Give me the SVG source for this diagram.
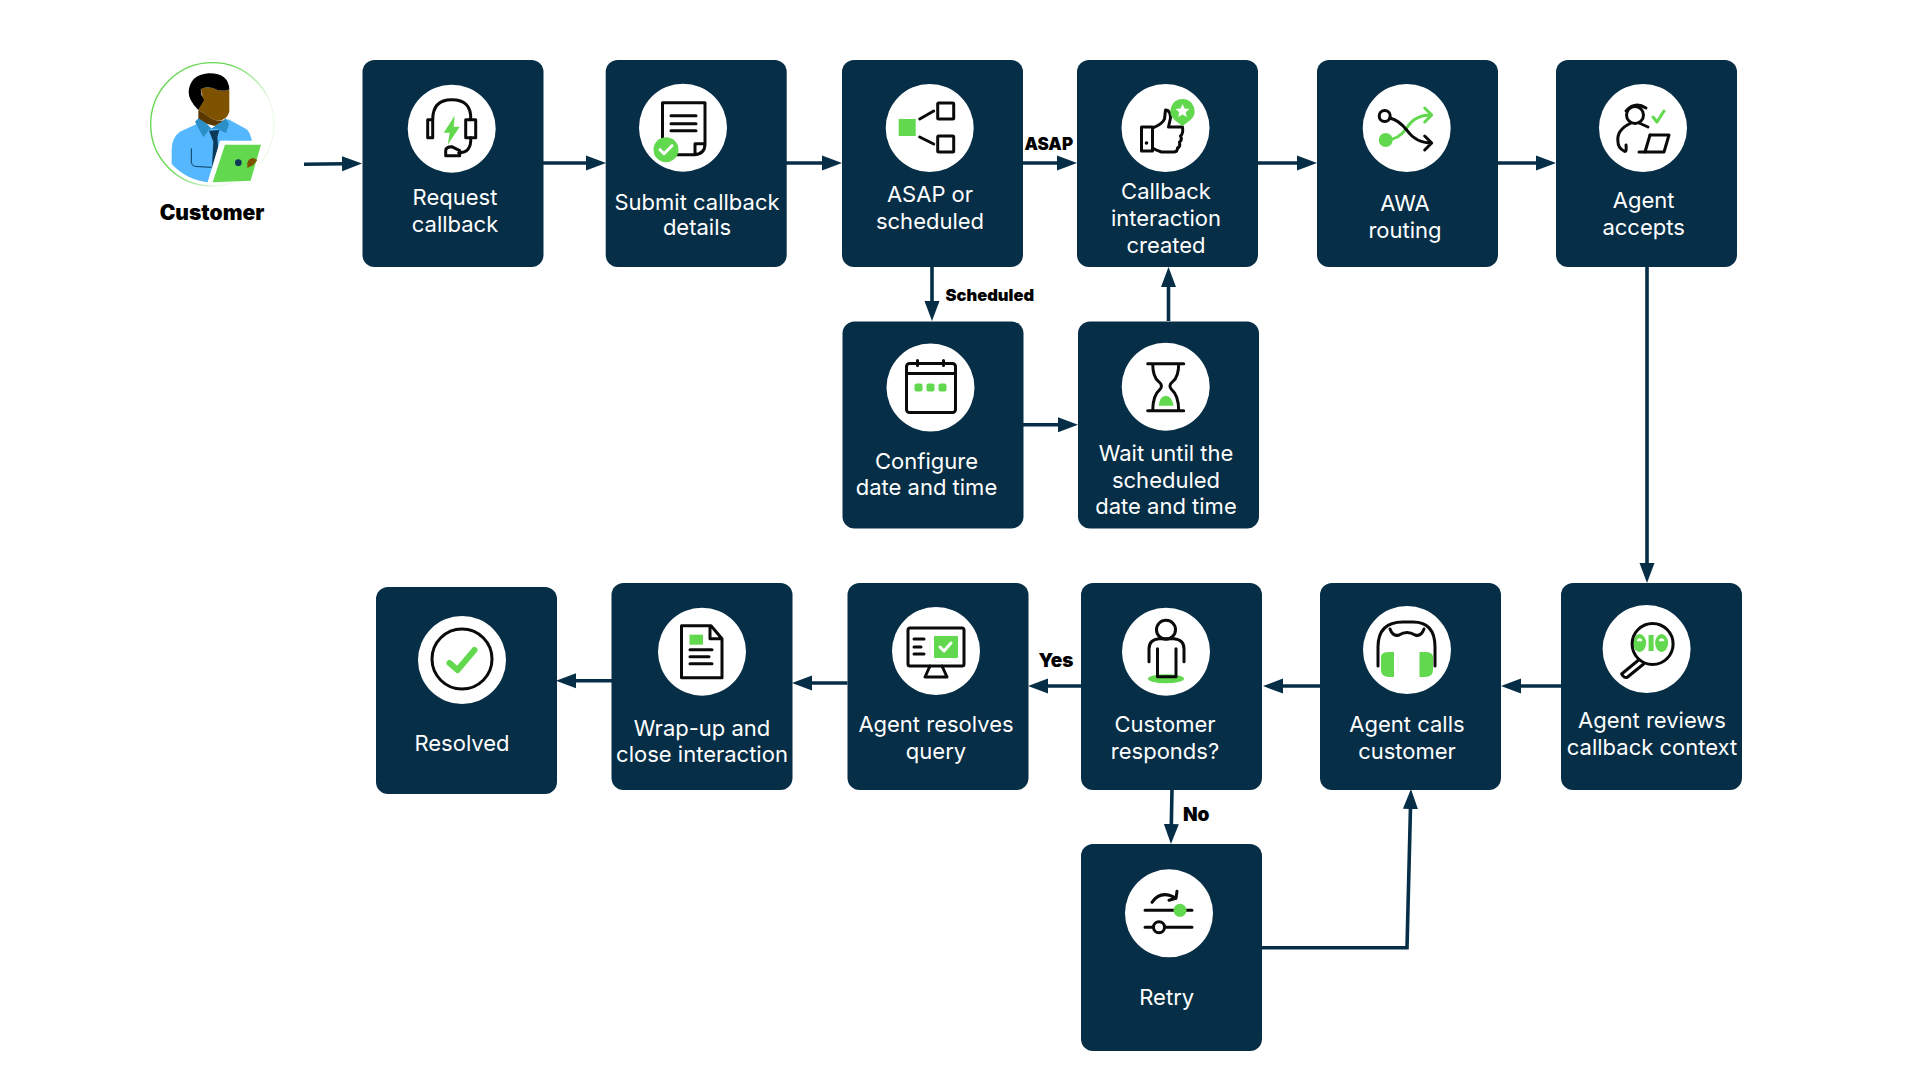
<svg xmlns="http://www.w3.org/2000/svg" width="1920" height="1080" viewBox="0 0 1920 1080">
<style>
text{font-family:"Inter","Liberation Sans",sans-serif}
.b{fill:#062e46}
.c{fill:#fff}
.t{fill:#fff;font-size:22px;text-anchor:middle}
.l{fill:#000;font-weight:900;font-size:16.500px}
.k{fill:none;stroke:#0a0a0a;stroke-width:3;stroke-linecap:round;stroke-linejoin:round}
.g{fill:#62d84e}
.gl{fill:none;stroke:#62d84e;stroke-width:3;stroke-linecap:round;stroke-linejoin:round}
.w{fill:none;stroke:#fff;stroke-width:3;stroke-linecap:round;stroke-linejoin:round}
.e{fill:none;stroke:#062e46;stroke-width:3.600;marker-end:url(#a)}
</style>
<defs>
<marker id="a" markerUnits="userSpaceOnUse" markerWidth="22" markerHeight="18" refX="2" refY="9" orient="auto"><path d="M0 1.500L20 9L0 16.500Z" fill="#062e46"/></marker>
<linearGradient id="ring" x1="0" y1="0" x2="1" y2="0.6"><stop offset="0" stop-color="#62d84e"/><stop offset=".5" stop-color="#62d84e"/><stop offset=".85" stop-color="#eefbeb"/></linearGradient>
</defs>
<rect width="1920" height="1080" fill="#fff"/>

<g id="connectors">
<path class="e" d="M304 164.300L344 163.800"/>
<path class="e" d="M543 163H588"/>
<path class="e" d="M786 163H824"/>
<path class="e" d="M1022 163H1059"/>
<path class="e" d="M1257 163H1299"/>
<path class="e" d="M1498 163H1538"/>
<path class="e" d="M932 267V303"/>
<path class="e" d="M1168.500 321V285"/>
<path class="e" d="M1023 424.700H1060"/>
<path class="e" d="M1647 267V565"/>
<path class="e" d="M1561 686H1519"/>
<path class="e" d="M1320 686H1281"/>
<path class="e" d="M1081 686H1046"/>
<path class="e" d="M847.500 683H810"/>
<path class="e" d="M612 680.700H574"/>
<path class="e" d="M1172 789L1171.300 826"/>
<path class="e" d="M1262 947.700H1407L1410.500 807"/>
</g>

<g id="customer">
<g transform="translate(130 50) scale(.3333)">
<circle cx="247" cy="223" r="185" fill="#fff" stroke="url(#ring)" stroke-width="4"/>
<path d="M125 300Q125 262 150 245L200 222L245 235L295 208L350 238Q362 250 366 275L280 272L235 397Q170 390 125 342Z" fill="#55b8ff"/>
<path d="M195 215L210 200L245 236L288 205L297 222L288 250L262 236H240L220 262Z" fill="#2c90c8"/>
<path d="M237 242L268 240L262 262L268 340L245 365L250 275Z" fill="#0c3a58"/>
<path d="M184 295V338Q186 350 205 350L245 352" fill="none" stroke="#0c3a58" stroke-width="3"/>
<path d="M212 118Q235 105 262 120Q290 125 298 118V185Q290 212 262 212Q235 205 222 190L205 180Q225 150 212 118Z" fill="#7f5200"/>
<path d="M205 180L222 190Q240 207 262 212L280 212L255 228L232 222L205 205Z" fill="#5a3800"/>
<path d="M176 125Q180 75 235 70Q295 68 298 118Q290 125 262 120Q235 105 212 118Q212 135 222 150L205 180Q175 150 176 125Z" fill="#000"/>
<path d="M270 272H366L405 280L370 398L232 400Z" fill="#fff"/>
<path d="M285 284L393 284L362 392L248 397Z" fill="#62d84e"/>
<circle cx="325" cy="338" r="10" fill="#0c3a58"/>
<path d="M352 340Q355 325 370 324L382 330L370 345L352 354Z" fill="#7f5200"/>
</g>
<text x="212" y="219.500" style="font-size:21px;font-weight:900;text-anchor:middle;fill:#000">Customer</text>
</g>

<g id="request-callback">
<rect class="b" x="362.500" y="60" width="181" height="207" rx="12"/>
<circle class="c" cx="451.700" cy="128.700" r="44"/>
<g transform="translate(451.700 128.700)">
<path class="k" d="M-19 -9Q-19 -29 0 -29Q20 -29 19 -9M19 9Q20 24 7 24"/>
<path class="k" d="M-19 -9H-24V9H-19ZM14 -9H24V9H14Z"/>
<path class="k" d="M-6 27V22Q-6 18 0 18L8 22V27Z"/>
<path class="g" d="M3 -13L-8 4H-2L-4 16L8 -2H2Z"/>
</g>
<text class="t" x="455" y="205">Request</text>
<text class="t" x="455" y="231.700">callback</text>
</g>

<g id="submit-callback">
<rect class="b" x="605.700" y="60" width="181" height="207" rx="12"/>
<circle class="c" cx="683" cy="127.700" r="44"/>
<g transform="translate(683 127.700)">
<path class="k" d="M-20.500 15V-25H22V16M-7 27H12Q22 26 22 16H12V27"/>
<path class="k" d="M-12 -12H13M-12 -4H13M-12 3H13"/>
<circle class="g" cx="-17" cy="22" r="12.500"/>
<path class="w" d="M-23 22L-19 26L-11 18"/>
</g>
<text class="t" x="697" y="209.500">Submit callback</text>
<text class="t" x="697" y="235">details</text>
</g>

<g id="asap-or-scheduled">
<rect class="b" x="842" y="60" width="181" height="207" rx="12"/>
<circle class="c" cx="929.700" cy="128" r="44"/>
<g transform="translate(929.700 128)">
<rect class="g" x="-31" y="-9" width="17" height="17"/>
<rect class="k" x="8" y="-25" width="16" height="16" rx="1"/>
<rect class="k" x="8" y="8" width="16" height="16" rx="1"/>
<path class="k" d="M-10 -9L4 -17M-10 9L4 16"/>
</g>
<text class="t" x="930" y="201.700">ASAP or</text>
<text class="t" x="930" y="229">scheduled</text>
</g>

<g id="callback-created">
<rect class="b" x="1077" y="60" width="181" height="207" rx="12"/>
<circle class="c" cx="1165.500" cy="128" r="44"/>
<g transform="translate(1165.500 128)">
<path class="k" d="M-24 -1H-13V23H-24ZM-13 0Q-3 -4 -1 -9L0 -18Q5 -18 5 -10L3 -1H17Q18 6 15 8Q17 12 14 14Q15 19 12 20Q12 24 8 24H-4Q-10 22 -13 20"/>
<circle cx="-19" cy="15" r="1.800" fill="#0a0a0a"/>
<path class="g" d="M17 -29A12 12 0 0 1 25 -8L17 -2L9 -8A12 12 0 0 1 17 -29Z"/>
<path fill="#fff" d="M17 -24L19 -19.500L24 -19L20.200 -15.700L21.300 -11L17 -13.500L12.700 -11L13.800 -15.700L10 -19L15 -19.500Z"/>
</g>
<text class="t" x="1166" y="199">Callback</text>
<text class="t" x="1166" y="226">interaction</text>
<text class="t" x="1166" y="252.700">created</text>
</g>

<g id="awa-routing">
<rect class="b" x="1317" y="60" width="181" height="207" rx="12"/>
<circle class="c" cx="1406.700" cy="128" r="44"/>
<g transform="translate(1406.700 128)">
<path class="gl" d="M-21 12Q-8 12 0 0Q8 -13 24 -13M18 -20L25 -13L18 -6"/>
<circle class="g" cx="-21" cy="12" r="7"/>
<circle class="k" cx="-22" cy="-12" r="5.500"/>
<path class="k" d="M-17 -10Q-8 -8 0 2Q9 15 25 15M18 8L25 15L18 22"/>
</g>
<text class="t" x="1405" y="211">AWA</text>
<text class="t" x="1405" y="237.500">routing</text>
</g>

<g id="agent-accepts">
<rect class="b" x="1556" y="60" width="181" height="207" rx="12"/>
<circle class="c" cx="1643" cy="128" r="44"/>
<g transform="translate(1643 128)">
<circle class="k" cx="-8" cy="-13" r="8.500"/>
<path class="k" d="M-17 -17Q-8 -27 3 -20M-4 -5L5 -1M-12 -5Q-27 2 -25 14Q-25 20 -19 23Q-16 25 -17 17"/>
<path class="gl" d="M10 -11L14 -6L21 -17"/>
<path class="k" d="M7 7H26L21 24H-4"/>
<path class="k" d="M7 7L2 24"/>
</g>
<text class="t" x="1643.600" y="207.700">Agent</text>
<text class="t" x="1643.600" y="234.500">accepts</text>
</g>

<g id="configure-date">
<rect class="b" x="842.500" y="321.500" width="181" height="207" rx="12"/>
<circle class="c" cx="930.500" cy="387.500" r="44"/>
<g transform="translate(930.500 387.500)">
<rect class="k" x="-24" y="-24" width="49" height="49" rx="3"/>
<path class="k" d="M-24 -14H25M-13 -27V-22M13 -27V-22"/>
<rect class="g" x="-16" y="-4" width="8" height="8" rx="2"/>
<rect class="g" x="-4" y="-4" width="8" height="8" rx="2"/>
<rect class="g" x="8" y="-4" width="8" height="8" rx="2"/>
</g>
<text class="t" x="926.500" y="469">Configure</text>
<text class="t" x="926.500" y="495">date and time</text>
</g>

<g id="wait-until">
<rect class="b" x="1078" y="321.500" width="181" height="207" rx="12"/>
<circle class="c" cx="1165.700" cy="386.700" r="44"/>
<g transform="translate(1165.700 386.700)">
<path class="k" d="M-18 -23H18M-18 24H18M-13 -23Q-13 -10 -7 -5Q-2 -1 -6 3Q-13 9 -13 24M13 -23Q13 -10 7 -5Q2 -1 6 3Q13 9 13 24"/>
<path class="g" d="M-7 19Q-6 9 0 9Q6 9 8 19Z"/>
</g>
<text class="t" x="1166" y="460.700">Wait until the</text>
<text class="t" x="1166" y="487.700">scheduled</text>
<text class="t" x="1166" y="513.700">date and time</text>
</g>

<g id="resolved">
<rect class="b" x="376" y="587" width="181" height="207" rx="12"/>
<circle class="c" cx="462" cy="660" r="44"/>
<g transform="translate(462 660)">
<circle class="k" cx="0" cy="-1" r="30"/>
<path fill="none" stroke="#62d84e" stroke-width="6" stroke-linecap="round" stroke-linejoin="round" d="M-12.500 3L-4.500 10L12.500 -10"/>
</g>
<text class="t" x="462" y="750.700">Resolved</text>
</g>

<g id="wrap-up">
<rect class="b" x="611.500" y="583" width="181" height="207" rx="12"/>
<circle class="c" cx="702" cy="651.700" r="44"/>
<g transform="translate(702 651.700)">
<path class="k" d="M-20.500 -26H9L20 -13V26H-20.500ZM8 -26V-13H20"/>
<rect class="g" x="-12.500" y="-17" width="13.500" height="10"/>
<path class="k" d="M-12 -2H10M-12 5H7M-12 12H10"/>
</g>
<text class="t" x="702" y="735.700">Wrap-up and</text>
<text class="t" x="702" y="761.700">close interaction</text>
</g>

<g id="agent-resolves">
<rect class="b" x="847.500" y="583" width="181" height="207" rx="12"/>
<circle class="c" cx="936" cy="651" r="44"/>
<g transform="translate(936 651)">
<rect class="k" x="-28" y="-23" width="56" height="38" rx="2"/>
<path class="k" d="M-6 15L-11 26H11L6 15"/>
<rect class="g" x="-2" y="-15" width="24" height="22" rx="1"/>
<path class="w" d="M4 -4L8 0L15 -8"/>
<path class="k" d="M-22 -12H-12M-22 -4H-15M-22 3H-12"/>
</g>
<text class="t" x="936" y="732">Agent resolves</text>
<text class="t" x="936" y="758.500">query</text>
</g>

<g id="customer-responds">
<rect class="b" x="1081" y="583" width="181" height="207" rx="12"/>
<circle class="c" cx="1166" cy="651.700" r="44"/>
<g transform="translate(1166 651.700)">
<ellipse class="g" cx="0" cy="27" rx="18" ry="4.500"/>
<circle class="k" cx="0" cy="-22" r="9.500"/>
<path class="k" d="M-17 10V-3Q-17 -12 -7 -13H8Q18 -12 18 -3V10M-8.500 -3V25H10V-3"/>
</g>
<text class="t" x="1165" y="732">Customer</text>
<text class="t" x="1165" y="758.700">responds?</text>
</g>

<g id="agent-calls">
<rect class="b" x="1320" y="583" width="181" height="207" rx="12"/>
<circle class="c" cx="1407" cy="650" r="44"/>
<g transform="translate(1407 650)">
<path class="g" d="M-26 7Q-26 2 -18 2H-13V27H-18Q-26 27 -26 20Z"/>
<path class="g" d="M26 7Q26 2 18 2H12.500V27H18Q26 27 26 20Z"/>
<path class="k" d="M-29 16V-3Q-29 -28 -4 -28H6Q28 -28 28 -3V16"/>
<path class="k" d="M-17 -21Q-14 -13 -8 -15Q0 -20 8 -15Q14 -13 17 -21"/>
</g>
<text class="t" x="1407" y="732">Agent calls</text>
<text class="t" x="1407" y="759">customer</text>
</g>

<g id="agent-reviews">
<rect class="b" x="1561" y="583" width="181" height="207" rx="12"/>
<circle class="c" cx="1646.600" cy="649" r="44"/>
<g transform="translate(1646.600 649)">
<ellipse class="g" cx="-7" cy="-6" rx="6.500" ry="9"/>
<rect class="g" x="2" y="-14" width="5" height="16"/>
<ellipse class="g" cx="15" cy="-6" rx="6.500" ry="9"/>
<path fill="none" stroke="#fff" stroke-width="2.500" d="M-9 -8Q-7 -11 -5 -8M13 -8Q15 -11 17 -8"/>
<circle class="k" cx="6" cy="-5" r="20.500"/>
<path class="k" d="M-8 11L-25 25Q-22 30 -19 28L-3 15"/>
</g>
<text class="t" x="1652" y="727.700">Agent reviews</text>
<text class="t" x="1652" y="754.500">callback context</text>
</g>

<g id="retry">
<rect class="b" x="1081" y="844" width="181" height="207" rx="12"/>
<circle class="c" cx="1169" cy="913.300" r="44"/>
<g transform="translate(1169 913.300)">
<path class="k" d="M-17 -11Q-8 -24 7 -15M0 -13L7 -15L8 -22"/>
<path class="k" d="M-24 -3H23M-24 14H23"/>
<circle class="g" cx="11" cy="-3" r="6.500"/>
<circle cx="-10" cy="14" r="5.500" fill="#fff" stroke="#0a0a0a" stroke-width="3"/>
</g>
<text class="t" x="1166.700" y="1005">Retry</text>
</g>

<g id="edge-labels">
<text class="l" x="1024.500" y="150" style="font-size:17px">ASAP</text>
<text class="l" x="945.500" y="301">Scheduled</text>
<text class="l" x="1038.600" y="667" style="font-size:19px">Yes</text>
<text class="l" x="1183" y="821" style="font-size:19px">No</text>
</g>
</svg>
